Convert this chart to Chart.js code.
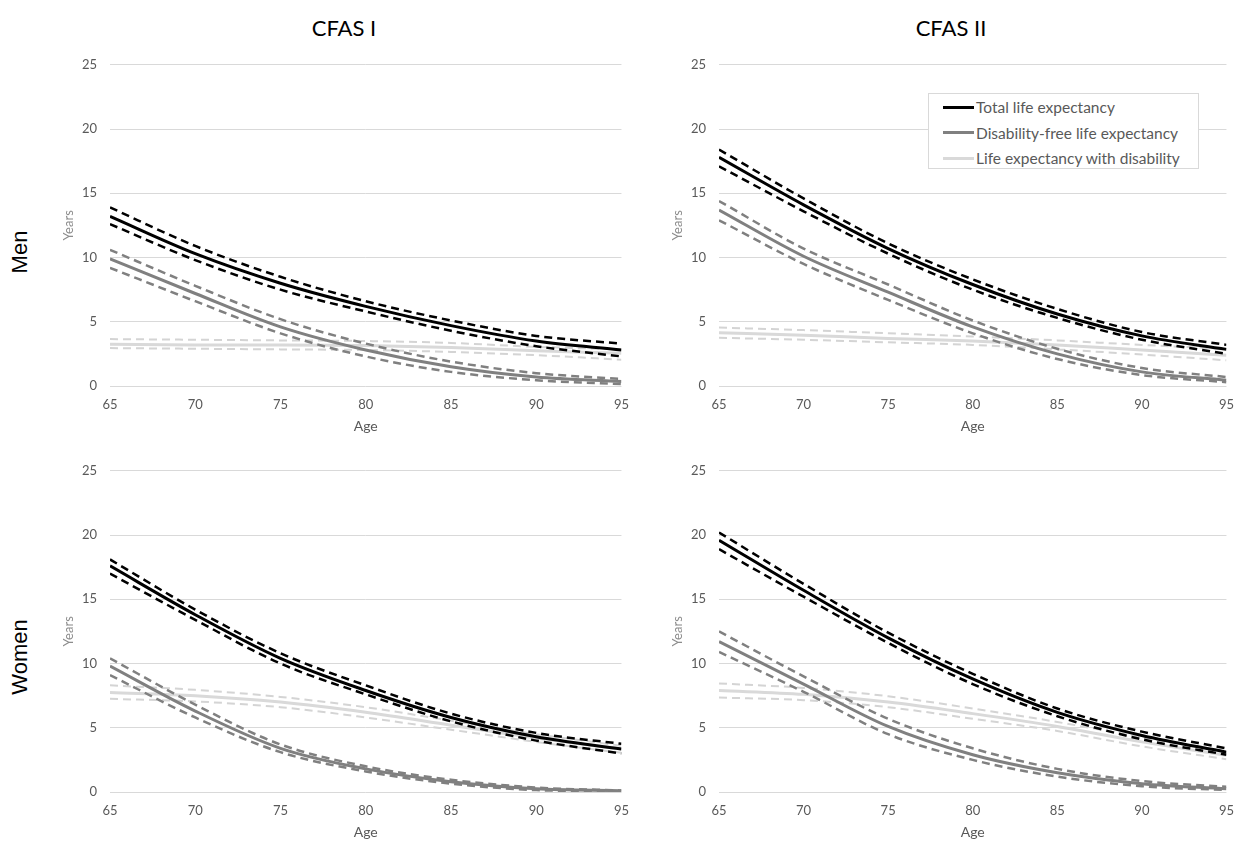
<!DOCTYPE html>
<html>
<head>
<meta charset="utf-8">
<script src="https://cdn.jsdelivr.net/npm/chart.js@4.4.1/dist/chart.umd.min.js"></script>
<style>
  body { margin: 0; width: 1245px; height: 841px; overflow: hidden; background: #fff; font-family: Lato, sans-serif; }
  canvas { position: absolute; }
  .col-title { position: absolute; top: 15px; font-size: 22px; line-height: 26px; color: #000; transform: translateX(-50%); white-space: nowrap; }
  .row-title { position: absolute; font-family: "Liberation Sans", Arial, sans-serif; font-size: 22px; line-height: 26px; color: #000;
               transform: translate(-50%, -50%) rotate(-90deg); white-space: nowrap; }
  #legend { position: absolute; left: 928px; top: 93px; width: 271px; height: 76px; box-sizing: border-box;
            border: 1px solid #d9d9d9; background: #fff; z-index: 5; }
  .legend-item { position: absolute; left: 14px; height: 20px; display: flex; align-items: center;
                 font-size: 15.5px; color: #595959; white-space: nowrap; }
  .legend-line { width: 31px; height: 3px; margin-right: 2px; }
</style>
</head>
<body>

<div class="col-title" style="left:344px">CFAS I</div>
<div class="col-title" style="left:951px">CFAS II</div>
<div class="row-title" style="left:20px; top:252px">Men</div>
<div class="row-title" style="left:20px; top:657px">Women</div>

<canvas id="menCfas1" width="600" height="391" style="left:40px; top:44px"></canvas>
<canvas id="menCfas2" width="596" height="391" style="left:649px; top:44px"></canvas>
<canvas id="womenCfas1" width="600" height="391" style="left:40px; top:450px"></canvas>
<canvas id="womenCfas2" width="596" height="391" style="left:649px; top:450px"></canvas>

<div id="legend"></div>

<script>
const ages = [65, 70, 75, 80, 85, 90, 95];
const seriesNames = ['Total life expectancy', 'Disability-free life expectancy', 'Life expectancy with disability'];
const seriesColors = ['#000000', '#808080', '#d9d9d9'];

// Men, CFAS I
const m1Total   = [13.2, 10.3, 8.0, 6.2, 4.7, 3.5, 2.8];
const m1TotalHi = [13.9, 10.9, 8.5, 6.6, 5.1, 3.9, 3.3];
const m1TotalLo = [12.6, 9.8, 7.5, 5.8, 4.3, 3.1, 2.3];
const m1Free    = [9.9, 7.2, 4.6, 2.8, 1.5, 0.7, 0.35];
const m1FreeHi  = [10.6, 7.8, 5.2, 3.3, 1.9, 1.0, 0.55];
const m1FreeLo  = [9.2, 6.6, 4.1, 2.3, 1.1, 0.45, 0.15];
const m1Dis     = [3.25, 3.2, 3.2, 3.15, 3.0, 2.75, 2.55];
const m1DisHi   = [3.65, 3.6, 3.55, 3.5, 3.35, 3.05, 2.85];
const m1DisLo   = [2.95, 2.9, 2.85, 2.8, 2.65, 2.4, 2.05];

// Men, CFAS II
const m2Total   = [17.8, 14.1, 10.7, 7.9, 5.6, 3.9, 2.85];
const m2TotalHi = [18.4, 14.6, 11.1, 8.3, 6.0, 4.2, 3.2];
const m2TotalLo = [17.1, 13.6, 10.3, 7.5, 5.3, 3.6, 2.5];
const m2Free    = [13.7, 10.1, 7.3, 4.6, 2.5, 1.1, 0.45];
const m2FreeHi  = [14.4, 10.7, 7.9, 5.1, 2.9, 1.4, 0.7];
const m2FreeLo  = [12.9, 9.5, 6.7, 4.1, 2.1, 0.85, 0.3];
const m2Dis     = [4.15, 3.95, 3.7, 3.5, 3.2, 2.8, 2.4];
const m2DisHi   = [4.55, 4.35, 4.1, 3.85, 3.55, 3.2, 2.9];
const m2DisLo   = [3.75, 3.6, 3.4, 3.2, 2.85, 2.45, 2.0];

// Women, CFAS I
const w1Total   = [17.6, 13.8, 10.4, 7.9, 5.8, 4.3, 3.35];
const w1TotalHi = [18.1, 14.2, 10.8, 8.3, 6.1, 4.6, 3.75];
const w1TotalLo = [17.0, 13.4, 10.0, 7.6, 5.5, 4.0, 3.0];
const w1Free    = [9.8, 6.3, 3.4, 1.8, 0.8, 0.25, 0.1];
const w1FreeHi  = [10.4, 6.8, 3.7, 2.0, 0.95, 0.35, 0.12];
const w1FreeLo  = [9.1, 5.8, 3.1, 1.6, 0.65, 0.15, 0.05];
const w1Dis     = [7.75, 7.5, 7.0, 6.2, 5.2, 4.2, 3.35];
const w1DisHi   = [8.3, 7.95, 7.4, 6.6, 5.55, 4.5, 3.6];
const w1DisLo   = [7.25, 7.05, 6.6, 5.8, 4.85, 3.9, 3.05];

// Women, CFAS II
const w2Total   = [19.6, 15.7, 12.0, 8.8, 6.2, 4.4, 3.1];
const w2TotalHi = [20.2, 16.2, 12.4, 9.2, 6.5, 4.7, 3.4];
const w2TotalLo = [18.9, 15.2, 11.6, 8.4, 5.9, 4.1, 2.9];
const w2Free    = [11.7, 8.4, 5.1, 2.9, 1.5, 0.65, 0.25];
const w2FreeHi  = [12.5, 9.0, 5.7, 3.4, 1.8, 0.85, 0.4];
const w2FreeLo  = [10.9, 7.8, 4.5, 2.5, 1.2, 0.45, 0.15];
const w2Dis     = [7.9, 7.6, 7.0, 6.1, 5.1, 3.9, 2.85];
const w2DisHi   = [8.45, 8.1, 7.45, 6.5, 5.45, 4.25, 3.05];
const w2DisLo   = [7.35, 7.15, 6.6, 5.7, 4.75, 3.55, 2.55];

const TICK_FONT = { family: 'Lato', size: 13 };

function points(values) {
  return values.map((v, i) => ({ x: ages[i], y: v }));
}

function solidLine(label, values, color) {
  return {
    label: label,
    data: points(values),
    borderColor: color,
    borderWidth: 3,
    cubicInterpolationMode: 'monotone',
    fill: false
  };
}

function dashedLine(label, values, color, width) {
  return {
    label: label,
    data: points(values),
    borderColor: color,
    borderWidth: width,
    borderDash: [8, 5],
    cubicInterpolationMode: 'monotone',
    fill: false
  };
}

function makePanel(canvasId, rightPad, total, totalLo, totalHi, free, freeLo, freeHi, dis, disLo, disHi) {
  const ctx = document.getElementById(canvasId).getContext('2d');
  // first dataset is drawn on top, so black goes first
  const datasets = [
    solidLine(seriesNames[0], total, seriesColors[0]),
    dashedLine(seriesNames[0] + ' upper', totalHi, seriesColors[0], 2.5),
    dashedLine(seriesNames[0] + ' lower', totalLo, seriesColors[0], 2.5),
    solidLine(seriesNames[1], free, seriesColors[1]),
    dashedLine(seriesNames[1] + ' upper', freeHi, seriesColors[1], 2.5),
    dashedLine(seriesNames[1] + ' lower', freeLo, seriesColors[1], 2.5),
    solidLine(seriesNames[2], dis, seriesColors[2]),
    dashedLine(seriesNames[2] + ' upper', disHi, '#d4d4d4', 2),
    dashedLine(seriesNames[2] + ' lower', disLo, '#d4d4d4', 2)
  ];

  return new Chart(ctx, {
    type: 'line',
    data: { datasets: datasets },
    options: {
      animation: false,
      responsive: false,
      devicePixelRatio: 1,
      layout: { padding: { top: 10, right: rightPad, bottom: 0, left: 0 } },
      elements: { point: { radius: 0 } },
      plugins: { legend: { display: false }, tooltip: { enabled: false } },
      scales: {
        x: {
          type: 'linear',
          min: 65,
          max: 95,
          afterFit: (scale) => { scale.height = 49; },
          border: { display: false },
          grid: { display: false, drawTicks: false },
          ticks: { stepSize: 5, padding: 11, color: '#595959', font: TICK_FONT, maxRotation: 0 },
          title: { display: true, text: 'Age', color: '#595959', font: { family: 'Lato', size: 14 }, padding: { top: 0, bottom: 0 } }
        },
        y: {
          min: 0,
          max: 25,
          afterFit: (scale) => { scale.width = 70; },
          border: { display: false },
          grid: { color: '#d9d9d9', lineWidth: 1, drawTicks: false },
          ticks: { stepSize: 5, padding: 13, color: '#595959', font: TICK_FONT },
          title: { display: true, text: 'Years', color: '#8c8c8c', font: { family: 'Lato', size: 13 }, padding: { top: 21, bottom: 0 } }
        }
      }
    }
  });
}

makePanel('menCfas1', 15, m1Total, m1TotalLo, m1TotalHi, m1Free, m1FreeLo, m1FreeHi, m1Dis, m1DisLo, m1DisHi);
makePanel('menCfas2', 11, m2Total, m2TotalLo, m2TotalHi, m2Free, m2FreeLo, m2FreeHi, m2Dis, m2DisLo, m2DisHi);
makePanel('womenCfas1', 15, w1Total, w1TotalLo, w1TotalHi, w1Free, w1FreeLo, w1FreeHi, w1Dis, w1DisLo, w1DisHi);
makePanel('womenCfas2', 11, w2Total, w2TotalLo, w2TotalHi, w2Free, w2FreeLo, w2FreeHi, w2Dis, w2DisLo, w2DisHi);

// Legend box sits inside the top-right panel
const legend = document.getElementById('legend');
seriesNames.forEach((name, i) => {
  const item = document.createElement('div');
  item.className = 'legend-item';
  item.style.top = (3 + i * 25.5) + 'px';

  const line = document.createElement('div');
  line.className = 'legend-line';
  line.style.background = seriesColors[i];
  item.appendChild(line);

  const text = document.createElement('span');
  text.textContent = name;
  item.appendChild(text);

  legend.appendChild(item);
});
</script>
</body>
</html>
